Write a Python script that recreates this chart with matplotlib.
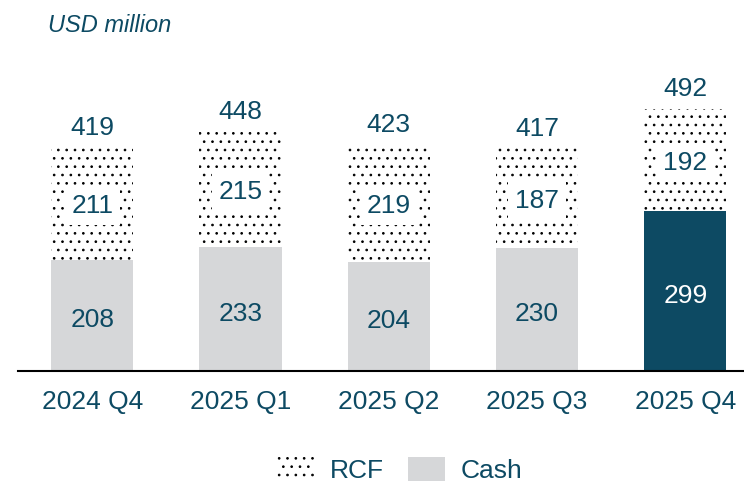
import numpy as np
import matplotlib.pyplot as plt
from matplotlib.patches import Patch

plt.rcParams['font.family'] = ['Liberation Sans', 'DejaVu Sans']
plt.rcParams['hatch.linewidth'] = 0.7

quarters = ["2024 Q4", "2025 Q1", "2025 Q2", "2025 Q3", "2025 Q4"]
cash = [208, 233, 204, 230, 299]
rcf = [211, 215, 219, 187, 192]
totals = [419, 448, 423, 417, 492]

teal = "#0d4a63"
grey = "#d6d7d9"
fs = 19

fig = plt.figure(figsize=(7.44, 4.84), dpi=100)
ax = fig.add_axes([18 / 744, 113 / 484, 726 / 744, 331 / 484])

x = np.arange(len(quarters))
cash_colors = [grey] * (len(quarters) - 1) + [teal]
ax.bar(x, cash, width=0.555, color=cash_colors, linewidth=0)
ax.bar(x, rcf, width=0.555, bottom=cash, facecolor="white",
       edgecolor="black", hatch="..", linewidth=0)

for i in range(len(quarters)):
    ax.text(x[i], cash[i] / 2 - 9, str(cash[i]), ha="center", va="center",
            fontsize=fs, color="white" if i == len(quarters) - 1 else teal)
    ax.text(x[i], cash[i] + rcf[i] / 2 - 5, str(rcf[i]), ha="center", va="center",
            fontsize=fs, color=teal,
            bbox=dict(facecolor="white", edgecolor="none", pad=5))
    ax.text(x[i], totals[i] + 37, str(totals[i]), ha="center", va="center",
            fontsize=fs, color=teal)

ax.set_xlim(-0.5, 4.396)
ax.set_ylim(0, 620)
ax.set_xticks(x)
ax.set_xticklabels(quarters, fontsize=fs, color=teal)
ax.tick_params(axis="x", length=0, pad=14)
ax.set_yticks([])
for side in ("top", "right", "left"):
    ax.spines[side].set_visible(False)
ax.spines["bottom"].set_linewidth(1.5)
ax.spines["bottom"].set_color("black")

fig.text(48 / 744, 1 - 25 / 484, "USD million", fontsize=17, style="italic",
         color=teal, va="center", ha="left")

handles = [Patch(facecolor="white", edgecolor="black", hatch="..", linewidth=0),
           Patch(facecolor=grey, linewidth=0)]
fig.legend(handles, ["RCF", "Cash"], ncol=2, frameon=False, fontsize=fs,
           labelcolor=teal, loc="center", bbox_to_anchor=(400 / 744, 1 - 470 / 484),
           handlelength=1.4, handleheight=1.05, handletextpad=0.6,
           columnspacing=0.9)

fig.savefig("out.png", dpi=100)
